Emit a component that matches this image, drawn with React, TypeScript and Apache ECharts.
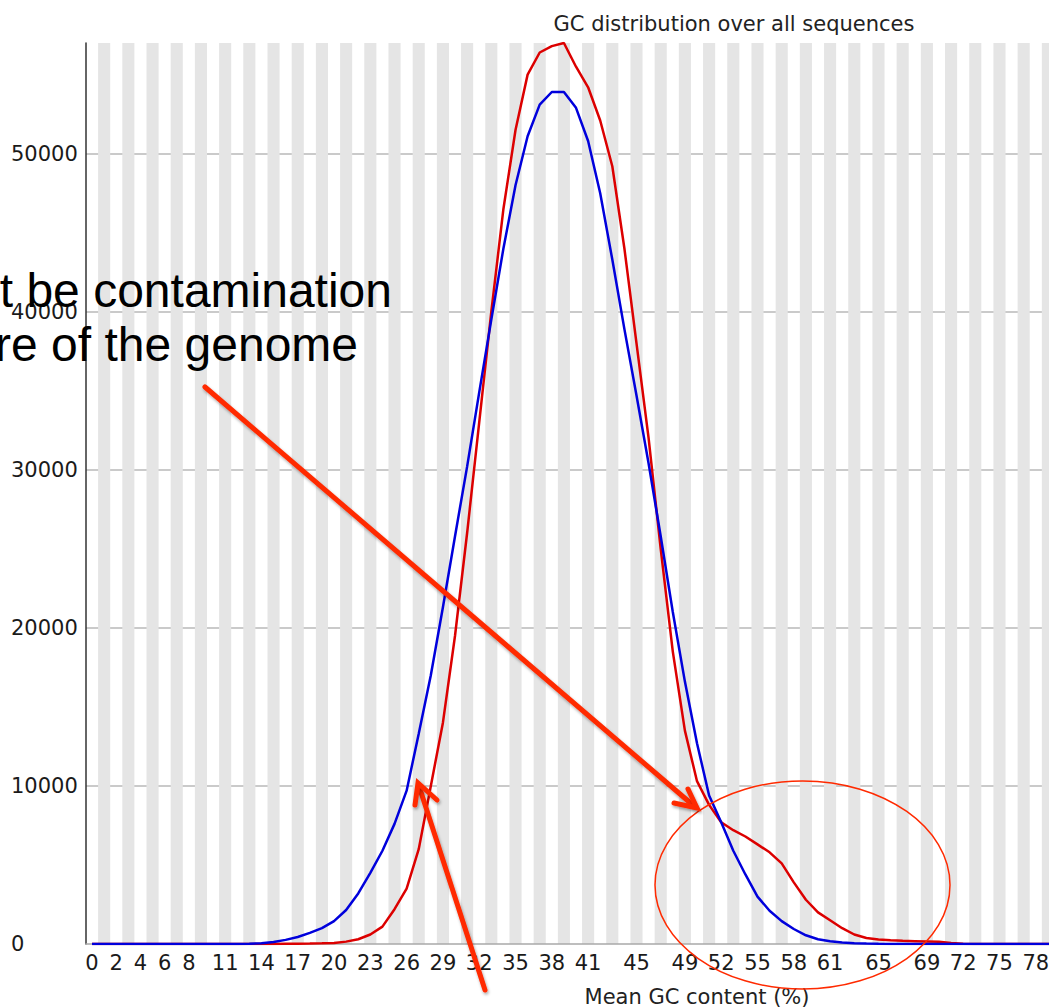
import React, { useEffect, useRef } from "react";
import * as echarts from "echarts";

// Mean GC content (%) categories
const gcPercent = [
  "0","1","2","3","4","5","6","7","8","9","10","11","12","13","14","15","16","17","18","19",
  "20","21","22","23","24","25","26","27","28","29","30","31","32","33","34","35","36","37","38","39",
  "40","41","42","43","44","45","46","47","48","49","50","51","52","53","54","55","56","57","58","59",
  "60","61","62","63","64","65","66","67","68","69","70","71","72","73","74","75","76","77","78","79",
  "80","81","82","83","84","85","86","87","88","89","90","91","92","93","94","95","96","97","98","99","100",
];

// Labels that are shown on the x axis
const shownXLabels = [0, 2, 4, 6, 8, 11, 14, 17, 20, 23, 26, 29, 32, 35, 38, 41, 45, 49, 52, 55, 58, 61, 65, 69, 72, 75, 78];

// GC count per read (actual, red)
const gcCountPerRead = [
  0, 0, 0, 0, 0, 0, 0, 0, 0, 0,
  0, 0, 0, 0, 0, 5, 10, 15, 25, 40,
  70, 150, 300, 600, 1100, 2200, 3500, 6000, 10000, 14000,
  19500, 26000, 33000, 40000, 46500, 51500, 55000, 56400, 56800, 57000,
  55500, 54200, 52100, 49200, 44000, 38000, 32000, 25000, 18500, 13500,
  10300, 8800, 7700, 7200, 6800, 6300, 5800, 5100, 3900, 2800,
  2000, 1500, 1000, 600, 380, 280, 230, 200, 180, 160,
  140, 60, 20, 0, 0, 0, 0, 0, 0, 0,
  0, 0, 0, 0, 0, 0, 0, 0, 0, 0,
  0, 0, 0, 0, 0, 0, 0, 0, 0, 0, 0,
];

// Theoretical distribution (blue)
const theoreticalDistribution = [
  0, 0, 0, 0, 0, 0, 0, 0, 0, 0,
  0, 0, 0, 20, 50, 130, 260, 440, 700, 1000,
  1450, 2150, 3200, 4500, 5900, 7600, 9700, 13300, 17000, 21300,
  25800, 30200, 34900, 39500, 44000, 48000, 51100, 53100, 53900, 53900,
  52900, 50800, 47500, 43300, 38900, 34700, 30400, 25800, 21000, 16600,
  12700, 9400, 7700, 5900, 4400, 3000, 2100, 1450, 950, 550,
  300, 170, 100, 50, 25, 10, 0, 0, 0, 0,
  0, 0, 0, 0, 0, 0, 0, 0, 0, 0,
  0, 0, 0, 0, 0, 0, 0, 0, 0, 0,
  0, 0, 0, 0, 0, 0, 0, 0, 0, 0, 0,
];

const yTicks = { min: 0, max: 57000, interval: 10000 };

const FONT = "DejaVu Sans";
const ARROW = "#ff2a00";

export default function App() {
  const ref = useRef<HTMLDivElement>(null);

  useEffect(() => {
    if (!ref.current) return;
    const chart = echarts.init(ref.current, undefined, { renderer: "svg" });
    const shadow = {
      shadowColor: "rgba(0,0,0,0.35)",
      shadowBlur: 3,
      shadowOffsetX: 1,
      shadowOffsetY: 2,
    };
    const option: any = {
      animation: false,
      backgroundColor: "#ffffff",
      title: {
        text: "GC distribution over all sequences",
        left: 729,
        top: 8,
        textAlign: "center",
        textStyle: { fontFamily: FONT, fontSize: 21, fontWeight: "normal", color: "#222" },
      },
      grid: { left: 86, top: 43, width: 1222, height: 901, containLabel: false, outerBoundsMode: "none" },
      xAxis: {
        type: "category",
        data: gcPercent,
        boundaryGap: true,
        name: "Mean GC content (%)",
        nameLocation: "middle",
        nameGap: 42,
        nameTextStyle: { fontFamily: FONT, fontSize: 21, color: "#222" },
        axisLine: { show: true, lineStyle: { color: "#a8a8a8", width: 1.5 } },
        axisTick: { show: false },
        axisLabel: {
          interval: (_i: number, v: string) => shownXLabels.includes(Number(v)),
          margin: 8,
          fontFamily: FONT,
          fontSize: 21,
          color: "#1a1a1a",
          hideOverlap: false,
        },
        splitLine: { show: false },
        splitArea: {
          show: true,
          interval: 0,
          areaStyle: { color: ["rgba(255,255,255,0)", "#e5e5e5"] },
        },
      },
      yAxis: {
        type: "value",
        min: yTicks.min,
        max: yTicks.max,
        interval: yTicks.interval,
        axisLine: { show: true, lineStyle: { color: "#333", width: 1.5 } },
        axisTick: { show: false },
        axisLabel: {
          align: "left",
          margin: 75,
          showMaxLabel: false,
          padding: [7, 0, 0, 0],
          fontFamily: FONT,
          fontSize: 21,
          color: "#1a1a1a",
          formatter: (v: number) => String(v),
        },
        splitLine: {
          show: true,
          showMinLine: false,
          showMaxLine: false,
          lineStyle: { color: "#b8b8b8", width: 1.5, type: "solid" },
        },
      },
      series: [
        {
          name: "GC count per read",
          type: "line",
          data: gcCountPerRead,
          symbol: "none",
          lineStyle: { color: "#dc0000", width: 2.5 },
          z: 3,
        },
        {
          name: "Theoretical Distribution",
          type: "line",
          data: theoreticalDistribution,
          symbol: "none",
          lineStyle: { color: "#0000dc", width: 2.5 },
          z: 4,
        },
      ],
      graphic: {
        elements: [
          {
            type: "text",
            x: 392,
            y: 290,
            z: 100,
            style: {
              text: "t be contamination",
              fill: "#000",
              font: '48px "Liberation Sans", Arial, sans-serif',
              align: "right",
              verticalAlign: "middle",
            },
          },
          {
            type: "text",
            x: 358,
            y: 344,
            z: 100,
            style: {
              text: "re of the genome",
              fill: "#000",
              font: '48px "Liberation Sans", Arial, sans-serif',
              align: "right",
              verticalAlign: "middle",
            },
          },
          {
            type: "ellipse",
            z: 100,
            shape: { cx: 802.5, cy: 885, rx: 147.5, ry: 104 },
            style: { fill: "none", stroke: ARROW, lineWidth: 1.5 },
          },
          {
            type: "line",
            z: 100,
            shape: { x1: 205, y1: 387, x2: 694, y2: 806 },
            style: { stroke: ARROW, lineWidth: 5, lineCap: "round", ...shadow },
          },
          {
            type: "polyline",
            z: 100,
            shape: { points: [[674, 803], [697, 808], [688, 789]] },
            style: { stroke: ARROW, lineWidth: 5, fill: "none", lineCap: "round", lineJoin: "miter", ...shadow },
          },
          {
            type: "line",
            z: 100,
            shape: { x1: 485, y1: 990, x2: 419, y2: 786 },
            style: { stroke: ARROW, lineWidth: 5, lineCap: "round", ...shadow },
          },
          {
            type: "polyline",
            z: 100,
            shape: { points: [[415, 805], [418, 783], [437, 800]] },
            style: { stroke: ARROW, lineWidth: 5, fill: "none", lineCap: "round", lineJoin: "miter", ...shadow },
          },
        ],
      },
    };
    chart.setOption(option);
    return () => chart.dispose();
  }, []);

  return (
    <div
      ref={ref}
      style={{ position: "absolute", left: 0, top: 0, width: 1049, height: 1007 }}
    />
  );
}
